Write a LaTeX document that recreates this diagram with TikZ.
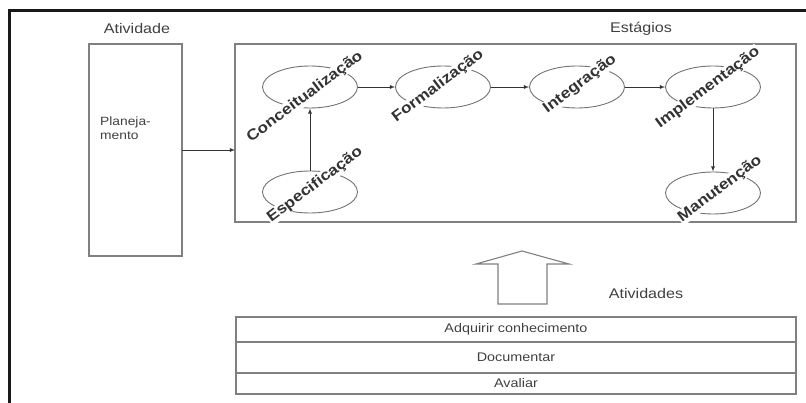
\documentclass[tikz,border=0pt]{standalone}
\usepackage{fontspec}
\setmainfont{Liberation Sans}[FakeStretch=1.15]
\usetikzlibrary{arrows,shapes.geometric}
\tikzset{
    frame/.style={draw=black!90, line width=3pt},
    box/.style={rectangle, draw=black!50, line width=1.1pt, inner sep=0pt, outer sep=0pt},
    row/.style={box, minimum width=560},
    stage/.style={ellipse, draw=black!55, line width=0.9pt, minimum width=95, minimum height=42},
    lbl/.style={rotate=37, fill=white, inner sep=0.6pt, text=black!80,
                font=\bfseries\fontsize{15}{16}\selectfont},
    link/.style={-latex, draw=black!80, line width=0.8pt}
}

\begin{document}
\begin{tikzpicture}
  [
    x                 = 1pt,
    y                 = -1pt,
    every node/.style = {text=black!75, font=\fontsize{14}{16}\selectfont},
  ]
  \useasboundingbox (0,0) rectangle (806,403);
  \draw [frame] (9.5,403) -- (9.5,10.5) -- (806,10.5);

  \node [anchor=base] (atividade) at (137,34) {Atividade};
  \node [box, minimum width=93, minimum height=212] (plan) at (135.5,150) {};
  \node [anchor=north west, align=left, inner sep=0pt,
         font=\fontsize{12}{14}\selectfont] (planlbl) at (100,117) {Planeja-\\mento};

  \node [anchor=base] (estagios) at (641,33) {Estágios};
  \node [box, minimum width=561, minimum height=178] (stages) at (515.5,133) {};

  \node [stage] (conc)  at (310,87)  {};
  \node [stage] (espec) at (310,192) {};
  \node [stage] (form)  at (443,87)  {};
  \node [stage] (integ) at (577,87)  {};
  \node [stage] (impl)  at (713,87)  {};
  \node [stage] (manut) at (713,193) {};

  \node [lbl] (conclbl)  at (305,97)  {Conceitualização};
  \node [lbl] (especlbl) at (315,185) {Especificação};
  \node [lbl] (formlbl)  at (438,86)  {Formalização};
  \node [lbl] (integlbl) at (580,84)  {Integração};
  \node [lbl] (impllbl)  at (708,88)  {Implementação};
  \node [lbl] (manutlbl) at (720,189) {Manutenção};

  \draw [link] (plan.east) -- (plan.east -| stages.west);
  \draw [link] (espec.north) -- (conc.south);
  \draw [link] (conc.east) -- (form.west);
  \draw [link] (form.east) -- (integ.west);
  \draw [link] (integ.east) -- (impl.west);
  \draw [link] (impl.south) -- (manut.north);

  \draw [box] (498,304) -- (498,264) -- (476,264) -- (522,251) -- (569,264)
              -- (547,264) -- (547,304) -- cycle;
  \node [anchor=base] (atividades) at (646,299) {Atividades};

  \node [row, minimum height=25, font=\fontsize{12.5}{14}\selectfont] (row1) at (516,329.5) {Adquirir conhecimento};
  \node [row, minimum height=31, anchor=north, font=\fontsize{12.5}{14}\selectfont] (row2) at (row1.south) {Documentar};
  \node [row, minimum height=21, anchor=north, font=\fontsize{12.5}{14}\selectfont] (row3) at (row2.south) {Avaliar};
\end{tikzpicture}
\end{document}
